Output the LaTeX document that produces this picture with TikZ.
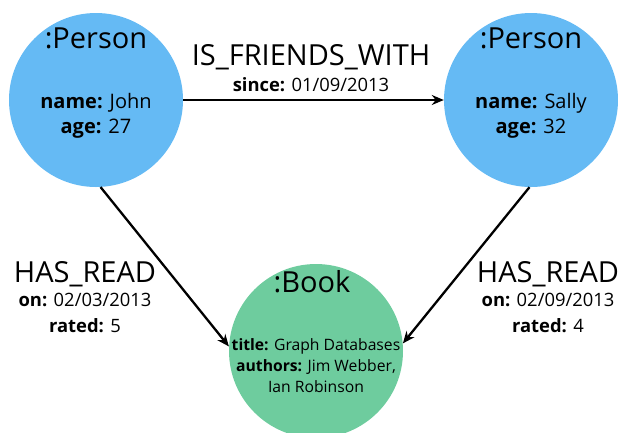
\documentclass[tikz,border=0pt]{standalone}
\usepackage{fontspec}
\setmainfont{Open Sans}
\usetikzlibrary{arrows.meta}
\definecolor{personblue}{HTML}{65BAF4}
\definecolor{bookgreen}{HTML}{6ECC9E}
\tikzset{
  nodecirc/.style={circle, inner sep=0pt, minimum size=174pt},
  person/.style={nodecirc, fill=personblue},
  book/.style={nodecirc, fill=bookgreen},
  bigtxt/.style={anchor=base, inner sep=0pt, font=\fontsize{29}{31}\selectfont},
  persontxt/.style={anchor=base, inner sep=0pt, font=\fontsize{20}{22}\selectfont},
  proptxt/.style={anchor=base, inner sep=0pt, font=\fontsize{18.4}{20}\selectfont},
  booktxt/.style={anchor=base, inner sep=0pt, font=\fontsize{15.7}{17}\selectfont},
  rel/.style={line width=2.3pt, -{Stealth[length=12pt,width=10pt]}}
}
\begin{document}
\begin{tikzpicture}[x=1pt,y=-1pt]
\useasboundingbox (0,0) rectangle (618,432);
\clip (0,0) rectangle (618,432);
\node[person] (john) at (96,100) {};
\node[person] (sally) at (531,100) {};
\node[book] (book) at (316,351) {};
% person texts
\node[bigtxt] (jl) at (96,48) {:Person};
\node[persontxt] (jn) at (96,108) {\textbf{name:} John};
\node[persontxt] (ja) at (96,133) {\textbf{age:} 27};
\node[bigtxt] (sl) at (531,48) {:Person};
\node[persontxt] (sn) at (531,108) {\textbf{name:} Sally};
\node[persontxt] (sa) at (531,133) {\textbf{age:} 32};
% book texts
\node[bigtxt] (bl) at (312,292) {:Book};
\node[booktxt] (bt) at (316,350) {\textbf{title:} Graph Databases};
\node[booktxt] (ba) at (316,371) {\textbf{authors:} Jim Webber,};
\node[booktxt] (br) at (316,392) {Ian Robinson};
% edges
\draw[rel] (john) -- (sally);
\draw[rel] (john.-87) -- (book.177);
\draw[rel] (sally.-91) -- (book.5);
% edge labels
\node[bigtxt] (fl) at (311,65) {IS\_FRIENDS\_WITH};
\node[proptxt] (fs) at (311,91) {\textbf{since:} 01/09/2013};
\node[bigtxt] (hl) at (85,282) {HAS\_READ};
\node[proptxt] (ho) at (85,306) {\textbf{on:} 02/03/2013};
\node[proptxt] (hr) at (85,332) {\textbf{rated:} 5};
\node[bigtxt] (rl) at (548,282) {HAS\_READ};
\node[proptxt] (ro) at (548,306) {\textbf{on:} 02/09/2013};
\node[proptxt] (rr) at (548,332) {\textbf{rated:} 4};
\end{tikzpicture}
\end{document}
